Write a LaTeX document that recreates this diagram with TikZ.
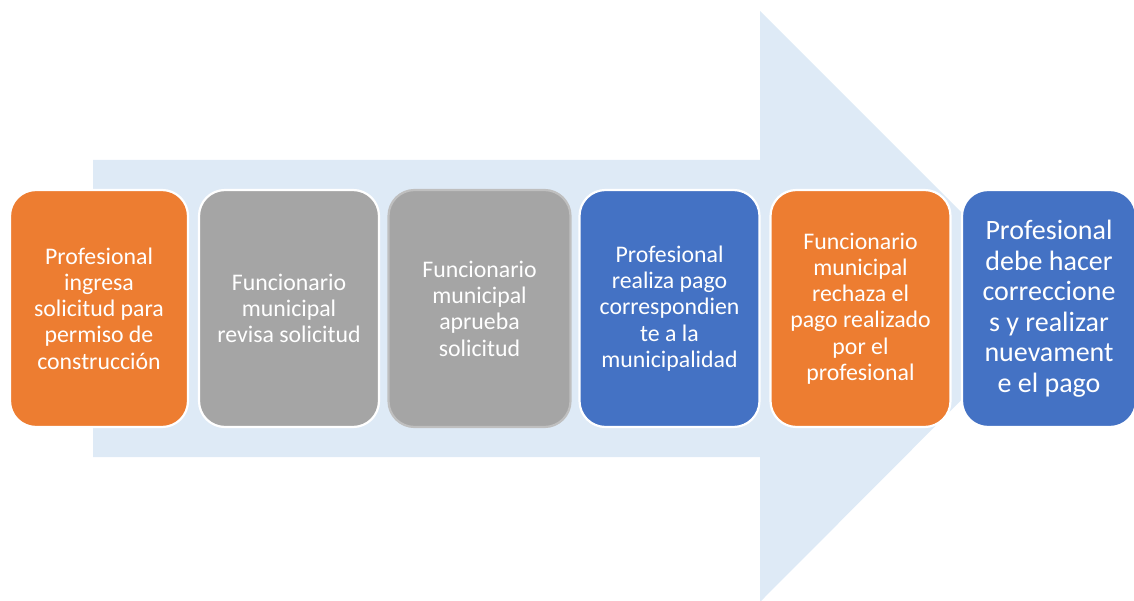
\documentclass[tikz,border=0pt]{standalone}
\usepackage{fontspec}
\setmainfont{Carlito}
\definecolor{paso naranja}{HTML}{ED7D31}
\definecolor{paso gris}{HTML}{A5A5A5}
\definecolor{paso azul}{HTML}{4472C4}
\definecolor{flecha}{HTML}{DEEAF6}

\begin{document}
\begin{tikzpicture}[x=1pt,y=1pt,
  paso/.style={draw=white, line width=2.2pt, rounded corners=26pt, text=white,
    minimum width=180pt, minimum height=237pt, align=center, inner sep=0pt,
    font=\fontsize{23.8}{26.3}\selectfont}]
\useasboundingbox (0,0) rectangle (1134,600);
% big arrow in the back
\fill [flecha] (93,440) -- (760,440) -- (760,589) -- (1055,294)
  -- (760,-2) -- (760,143) -- (93,143) -- cycle;
% the steps
\node [paso, fill=paso naranja, minimum width=178pt] (ingreso) at (99,291.5)
  {Profesional\\ingresa\\solicitud para\\permiso de\\construcción};
\node [paso, fill=paso gris] (revision) at (289,291.5)
  {Funcionario\\municipal\\revisa solicitud};
\node [paso, fill=paso gris, draw=black!25, minimum width=182pt] (aprobacion) at (479.5,291.5)
  {Funcionario\\municipal\\aprueba\\solicitud};
\node [paso, fill=paso azul] (pago) at (669.5,291.5)
  {Profesional\\realiza pago\\correspondien\\te a la\\municipalidad};
\node [paso, fill=paso naranja] (rechazo) at (860.5,291.5)
  {Funcionario\\municipal\\rechaza el\\pago realizado\\por el\\profesional};
\node [paso, fill=paso azul, minimum width=174pt, font=\fontsize{28}{30.5}\selectfont]
  (correccion) at (1049,291.5)
  {Profesional\\debe hacer\\correccione\\s y realizar\\nuevament\\e el pago};
\end{tikzpicture}
\end{document}
